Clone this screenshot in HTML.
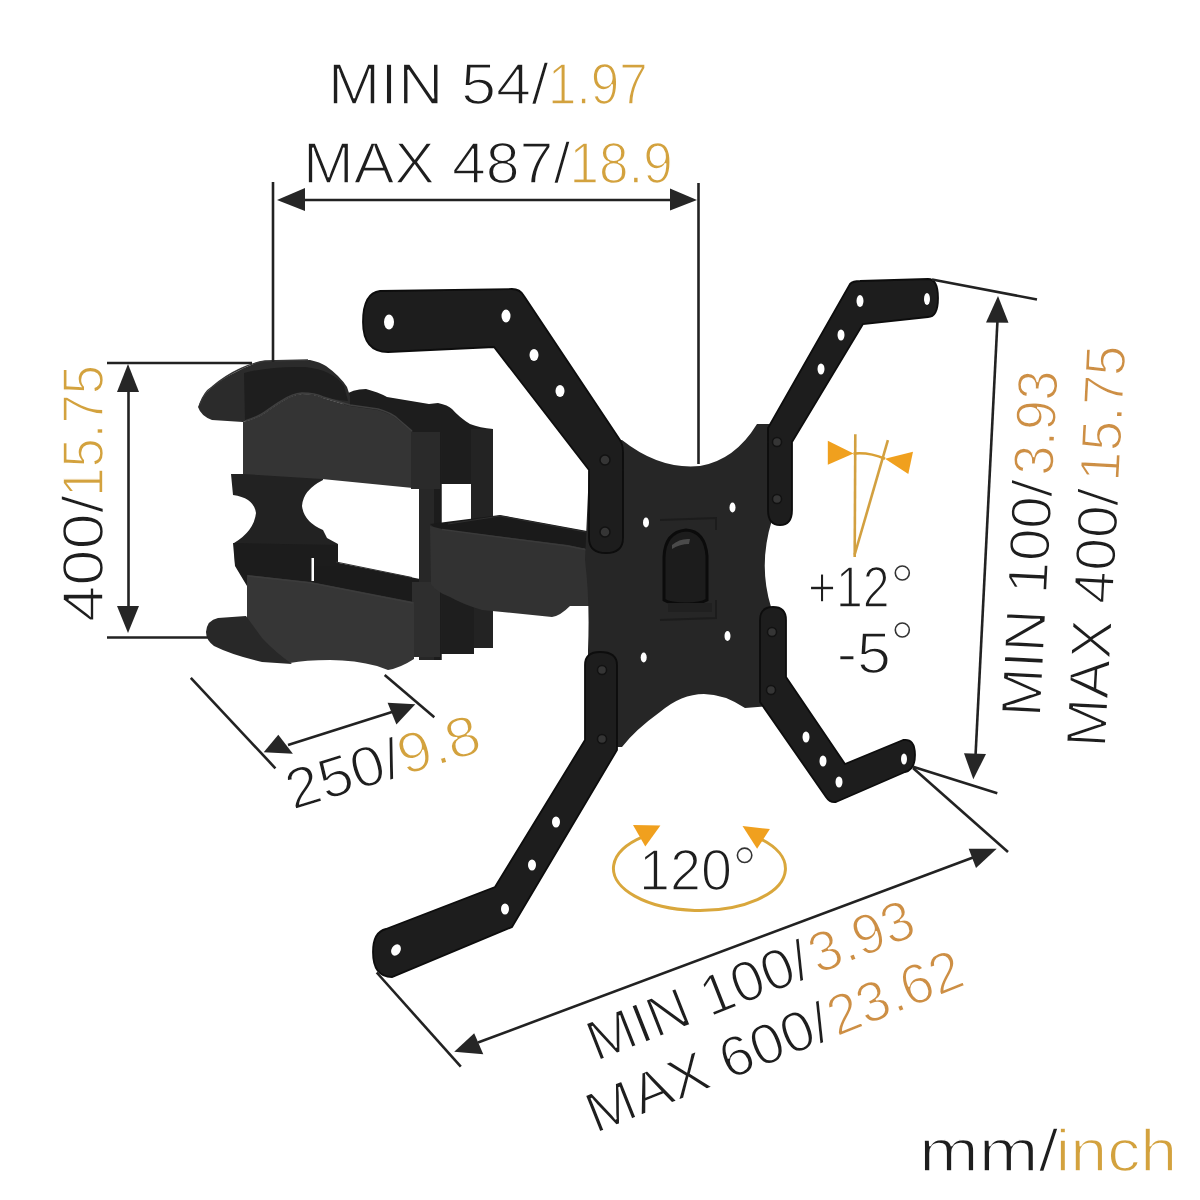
<!DOCTYPE html>
<html><head><meta charset="utf-8">
<style>
html,body{margin:0;padding:0;background:#fff;width:1200px;height:1200px;overflow:hidden;}
svg{display:block;}
text{font-family:"Liberation Sans",sans-serif;}
.t{font-size:57px;stroke:#fff;stroke-width:1.6px;}
.k{fill:#1e1e1e;}
.o{fill:#d3a23e;}
.o2{fill:#cd8f45;}
.dl{stroke:#222;stroke-width:2.6;fill:none;}
.ah{fill:#262626;}
</style></head>
<body>
<svg width="1200" height="1200" viewBox="0 0 1200 1200">
<rect width="1200" height="1200" fill="#fff"/>

<!-- ===== LEFT ARM MECHANISM ===== -->
<g id="arm">
  <!-- back upper arm -->
  <path fill="#1d1d1d" d="M344 396 Q352 389 366 389 Q378 392 387 397 L429 404 L438 403 Q448 405 452 409 Q460 418 470 424 Q480 428 493 429 L493 484 L441 484 L413 470 L340 470 Z"/>
  <!-- right post -->
  <rect x="471" y="429" width="22" height="219" fill="#232323"/>
  <!-- dark joint region between posts -->
  <rect x="438" y="524" width="36" height="130" fill="#1e1e1e"/>
  <!-- middle block -->
  <path fill="#222" d="M231 474 L245 474 L245 466 L323 466 L323 480 Q303 490 302 506 Q304 522 323 530 L327 538 L338 544 L338 564 L235 564 L234 543 Q254 531 256 513 Q254 498 233 495 Z"/>
  <!-- upper arm front -->
  <path fill="#343434" d="M243 422 Q258 418 265 413 Q276 405 283 401 Q292 395 302 394 Q315 394 323 398 L350 406 L378 410 Q392 414 398 420 Q405 426 413 432 L413 488 L322 479 L243 474 Z"/>
  <!-- top cap -->
  <path fill="#2b2b2b" d="M198 407 Q202 396 210 389 Q220 380 232 374 Q248 365 262 361 L310 360 Q320 362 326 366 Q340 376 347 387 L350 396 L350 406 L323 398 Q315 394 302 394 Q292 395 283 401 Q276 405 265 413 Q258 418 243 422 L212 420 Q201 416 198 407 Z"/>
  <path fill="#1e1e1e" d="M244 373 Q270 366 305 367 Q333 370 344 386 L348 401 L323 398 Q315 394 302 394 Q292 395 283 401 Q276 405 265 413 Q258 418 245 421 Z"/>
  <!-- window bottom rear lower arm -->
  <path fill="#1b1b1b" d="M312 560 L334 562 L420 579 L420 612 L312 600 Z"/>
  <!-- lower middle part -->
  <path fill="#1c1c1c" d="M233 543 L338 545 L338 566 L312 566 L312 586 L247 586 L235 566 Z"/>
  <rect x="311.5" y="558" width="2.5" height="23" fill="#fff"/>
  <!-- left post -->
  <rect x="419" y="433" width="22.5" height="227" fill="#272727"/>
  <rect x="434" y="433" width="7.5" height="227" fill="#1c1c1c"/>
  <rect x="411" y="432" width="29" height="57" fill="#2a2a2a"/>
  <rect x="412" y="582" width="28" height="75" fill="#2e2e2e"/>
  <!-- forearm -->
  <path fill="#1a1a1a" d="M430 524 L500 515 L587 531 L594 550 L568 547 L440 532 Z"/>
  <path fill="#323232" d="M430 526 L446 530 L568 545 L587 549 Q598 552 600 560 L601 606 L570 606 Q560 616 552 617 L482 610 Q462 604 450 597 Q436 592 431 584 Z"/>
  <!-- lower arm front -->
  <path fill="#363636" d="M247 575 L311 582 L414 602 L414 659 Q400 668 388 670 L377 666 Q355 660 330 660 Q305 660 290 663 L262 655 L247 640 Z"/>
  <!-- bottom cap -->
  <path fill="#282828" d="M206 632 Q207 620 218 618 L246 616 L262 638 Q275 652 292 664 L262 662 Q232 655 214 646 Q206 640 206 632 Z"/>
  <!-- highlights -->
  <path d="M245 421 Q258 417 265 412 Q276 404 283 400 Q292 394 302 393 Q315 393 323 397 L350 405 L378 409 Q392 413 398 419 L412 431" fill="none" stroke="#3f3f3f" stroke-width="1.6"/>
  <path d="M248 576 L311 583 L413 603" fill="none" stroke="#3c3c3c" stroke-width="1.6"/>
  <path d="M442 529.5 L568 546 L587 550" fill="none" stroke="#3a3a3a" stroke-width="1.5"/>
  <path d="M448 524 L500 516 L586 532" fill="none" stroke="#2e2e2e" stroke-width="1.2"/>
  <path d="M336 562 L412 577.5" fill="none" stroke="#333" stroke-width="1.2"/>
  <path d="M200 404 Q204 392 212 387 Q225 376 240 369 Q252 363 265 361 L308 360" fill="none" stroke="#363636" stroke-width="1.4"/>
</g>

<!-- ===== X PLATE ===== -->
<g id="plate">
  <!-- center plate -->
  <path fill="#262626" d="M598 442 L622 440 Q660 470 700 466 Q735 460 757 424 L772 424 L772 520 Q758 565 771 607 L771 706 L745 708 Q700 678 660 712 Q635 730 622 747 L588 747 L588 650 Q590 600 585 560 L589 470 Z"/>
  <!-- top-left arm -->
  <path stroke="#0d0d0d" stroke-width="1.8" fill="#1d1d1d" d="M380 291 L512 289 Q520 289 524 296 L620 440 Q623 445 623 452 L623 538 Q623 553 606 553 Q589 553 589 538 L589 470 L494 347 L388 352 Q363 352 363 322 Q363 293 380 291 Z"/>
  <!-- top-right arm -->
  <path stroke="#0d0d0d" stroke-width="1.8" fill="#1d1d1d" d="M850 284 Q853 281 860 281 L928 279 Q938 279 938 298 Q938 317 928 317 L863 324 L792 442 L792 510 Q792 525 780 525 Q768 525 768 510 L768 428 Z"/>
  <!-- bottom-left arm -->
  <path stroke="#0d0d0d" stroke-width="1.8" fill="#1d1d1d" d="M585 665 Q585 652 600 652 Q617 652 617 665 L617 750 L512 927 L392 977 Q373 977 373 952 Q373 932 386 929 L495 887 L585 740 Z"/>
  <!-- bottom-right arm -->
  <path stroke="#0d0d0d" stroke-width="1.8" fill="#1d1d1d" d="M760 620 Q760 607 773 607 Q786 607 786 620 L786 677 L845 764 L903 740 Q915 738 915 755 Q915 770 905 772 L836 802 Q830 803 826 797 L760 702 Z"/>
  <!-- center slot -->
  <path d="M664 600 L664 557 Q665 532 686 530 Q705 531 707 556 L707 600 Q700 604 686 604 Q670 604 664 600 Z" fill="#1c1c1c" stroke="#0b0b0b" stroke-width="3"/>
  <path d="M672 545 Q680 538 690 539 L689 544 Q680 544 672 549 Z" fill="#4a4a4a"/>
  <path d="M668 603 L712 603 L712 612 L668 612 Z" fill="#202020"/>
  <path d="M660 520 L716 518 L716 530 M716 600 L716 618 L660 620" fill="none" stroke="#1c1c1c" stroke-width="2"/>
  <!-- holes -->
  <g fill="#fff">
    <ellipse cx="389" cy="322" rx="5" ry="7.5"/>
    <ellipse cx="506" cy="316" rx="4.5" ry="6.5"/>
    <ellipse cx="534" cy="355" rx="4.5" ry="6"/>
    <ellipse cx="560" cy="391" rx="4.5" ry="6"/>
    <ellipse cx="860" cy="301" rx="3.5" ry="6"/>
    <ellipse cx="927" cy="299" rx="3" ry="6"/>
    <ellipse cx="841" cy="335" rx="3.5" ry="5.5"/>
    <ellipse cx="821" cy="369" rx="3.5" ry="5.5"/>
    <ellipse cx="396" cy="950" rx="4.5" ry="6" transform="rotate(30 396 950)"/>
    <ellipse cx="505" cy="909" rx="4" ry="5.5"/>
    <ellipse cx="532" cy="865" rx="4" ry="5.5"/>
    <ellipse cx="556" cy="822" rx="4" ry="5.5"/>
    <ellipse cx="806" cy="737" rx="3.5" ry="5.5"/>
    <ellipse cx="823" cy="761" rx="3.5" ry="5.5"/>
    <ellipse cx="839" cy="782" rx="3.5" ry="5.5"/>
    <ellipse cx="904" cy="759" rx="3" ry="5.5"/>
    <ellipse cx="646" cy="522.5" rx="3" ry="5"/>
    <ellipse cx="732.5" cy="507.5" rx="3" ry="5"/>
    <ellipse cx="727.5" cy="636" rx="3" ry="5"/>
    <ellipse cx="643.7" cy="657.5" rx="3" ry="5"/>
  </g>
  <!-- bolts -->
  <g fill="#353535" stroke="#121212" stroke-width="1.5">
    <circle cx="605" cy="460" r="5"/>
    <circle cx="605" cy="532" r="5"/>
    <circle cx="777" cy="442" r="4.5"/>
    <circle cx="777" cy="499" r="4.5"/>
    <circle cx="602" cy="739" r="4.5"/>
    <circle cx="602" cy="670" r="4.5"/>
    <circle cx="772" cy="632" r="4.5"/>
    <circle cx="771" cy="690" r="4.5"/>
  </g>
</g>

<!-- ===== DIMENSION LINES ===== -->
<g id="dims">
  <!-- top -->
  <line class="dl" x1="273" y1="182" x2="273" y2="362"/>
  <line class="dl" x1="698.5" y1="183" x2="698.5" y2="464"/>
  <line class="dl" x1="300" y1="200" x2="675" y2="200"/>
  <polygon class="ah" points="277,200 305,188 305,211"/>
  <polygon class="ah" points="697,200 670,188.5 670,210.5"/>
  <!-- left -->
  <line class="dl" x1="107" y1="363" x2="252" y2="363"/>
  <line class="dl" x1="107" y1="637.5" x2="208" y2="637.5"/>
  <line class="dl" x1="128.5" y1="388" x2="128.5" y2="610"/>
  <polygon class="ah" points="128,364 117,392 139,392"/>
  <polygon class="ah" points="128,633 117,606 139,606"/>
  <!-- right -->
  <line class="dl" x1="932" y1="279.5" x2="1037" y2="299.5"/>
  <line class="dl" x1="913" y1="766.7" x2="997.3" y2="793.3"/>
  <line class="dl" x1="913" y1="768" x2="1008" y2="852"/>
  <line class="dl" x1="997.5" y1="320" x2="975.5" y2="756"/>
  <polygon class="ah" points="998,296 986,322.5 1008.5,322.7"/>
  <polygon class="ah" points="973.3,779.3 964,753.3 986,754"/>
  <!-- bottom -->
  <line class="dl" x1="376.7" y1="972.5" x2="460.8" y2="1066.7"/>
  <line class="dl" x1="478" y1="1042.5" x2="973" y2="857.5"/>
  <polygon class="ah" points="454.2,1051.7 474.2,1033.3 483.3,1054.2"/>
  <polygon class="ah" points="996.7,848.7 968.7,848.7 976,868"/>
  <!-- 250 -->
  <line class="dl" x1="190.8" y1="677.9" x2="275.4" y2="768.3"/>
  <line class="dl" x1="384.7" y1="675" x2="434.3" y2="717.3"/>
  <line class="dl" x1="288" y1="745" x2="392" y2="712"/>
  <polygon class="ah" points="263.7,752.3 278.3,734.8 292.9,753.7"/>
  <polygon class="ah" points="415.3,704.2 387.6,702.7 396.4,724.5"/>
</g>

<!-- ===== TEXT ===== -->
<g id="texts">
  <text class="t k" x="327.8" y="104.3" textLength="220.9" lengthAdjust="spacingAndGlyphs">MIN 54/</text>
  <text class="t o" x="548.1" y="104.3" textLength="99.5" lengthAdjust="spacingAndGlyphs">1.97</text>
  <text class="t k" x="303" y="182.5" textLength="267.4" lengthAdjust="spacingAndGlyphs">MAX 487/</text>
  <text class="t o" x="569.6" y="182.5" textLength="103.2" lengthAdjust="spacingAndGlyphs">18.9</text>

  <g transform="translate(102.5,621) rotate(-90)">
    <text class="t k" x="-1.1" y="0" textLength="127.1" lengthAdjust="spacingAndGlyphs">400/</text>
    <text class="t o" x="124.3" y="0" textLength="131.6" lengthAdjust="spacingAndGlyphs">15.75</text>
  </g>

  <g transform="translate(1040.8,712.5) rotate(-87.1)">
    <text class="t k" x="-5.1" y="0" textLength="236.9" lengthAdjust="spacingAndGlyphs">MIN 100/</text>
    <text class="t o2" x="236.6" y="0" textLength="105.2" lengthAdjust="spacingAndGlyphs">3.93</text>
  </g>
  <g transform="translate(1105.8,743) rotate(-87.1)">
    <text class="t k" x="-5.2" y="0" textLength="258.5" lengthAdjust="spacingAndGlyphs">MAX 400/</text>
    <text class="t o2" x="261.4" y="0" textLength="135.8" lengthAdjust="spacingAndGlyphs">15.75</text>
  </g>

  <g transform="translate(295.8,809.2) rotate(-17.2)">
    <text class="t k" x="-3.2" y="0" textLength="117.9" lengthAdjust="spacingAndGlyphs">250/</text>
    <text class="t o" x="113.8" y="0" textLength="83.5" lengthAdjust="spacingAndGlyphs">9.8</text>
  </g>

  <g transform="translate(600.8,1060) rotate(-21.5)">
    <text class="t k" x="-5.1" y="0" textLength="234.6" lengthAdjust="spacingAndGlyphs">MIN 100/</text>
    <text class="t o2" x="233.5" y="0" textLength="108.4" lengthAdjust="spacingAndGlyphs">3.93</text>
  </g>
  <g transform="translate(600,1131.7) rotate(-21.8)">
    <text class="t k" x="-5.2" y="0" textLength="258" lengthAdjust="spacingAndGlyphs">MAX 600/</text>
    <text class="t o2" x="255" y="0" textLength="140.7" lengthAdjust="spacingAndGlyphs">23.62</text>
  </g>

  <text class="t k" x="807.9" y="607.2" textLength="81.8" lengthAdjust="spacingAndGlyphs">+12</text>
  <circle cx="902.3" cy="573" r="7" fill="none" stroke="#333" stroke-width="1.6"/>
  <text class="t k" x="836.8" y="672.5" textLength="54.1" lengthAdjust="spacingAndGlyphs">-5</text>
  <circle cx="902.3" cy="630" r="7" fill="none" stroke="#333" stroke-width="1.6"/>

  <text class="t k" x="639.1" y="890" textLength="93" lengthAdjust="spacingAndGlyphs">120</text>
  <circle cx="744.6" cy="855.3" r="7.2" fill="none" stroke="#333" stroke-width="1.6"/>

  <text class="t k" x="918.9" y="1171.2" style="font-size:59px" textLength="139.5" lengthAdjust="spacingAndGlyphs">mm/</text>
  <text class="t o" x="1055.5" y="1171.2" style="font-size:59px" textLength="121.8" lengthAdjust="spacingAndGlyphs">inch</text>
</g>

<!-- ===== ICONS ===== -->
<g id="icons">
  <!-- tilt -->
  <line x1="855.3" y1="434.3" x2="854.7" y2="557" stroke="#d2a040" stroke-width="2.6"/>
  <line x1="887.9" y1="440.2" x2="854.7" y2="554.5" stroke="#d2a040" stroke-width="2.6"/>
  <path d="M853.5 453.6 Q869 452 885 458.8" stroke="#d9a035" stroke-width="2.6" fill="none"/>
  <polygon points="827.8,440.8 827.8,464.7 853.5,453.6" fill="#f0a01e"/>
  <polygon points="913,451.8 908.3,474 885,458.8" fill="#f0a01e"/>
  <!-- 120 rotation -->
  <path d="M643.9 836.4 A86 42 0 1 0 761.9 839.6" stroke="#d9a73c" stroke-width="3" fill="none"/>
  <polygon points="633,824.9 660.4,825.5 645.3,846.5" fill="#f0a01e"/>
  <polygon points="742.5,826.1 769.9,829 757.1,848.8" fill="#f0a01e"/>
</g>
</svg>
</body></html>
